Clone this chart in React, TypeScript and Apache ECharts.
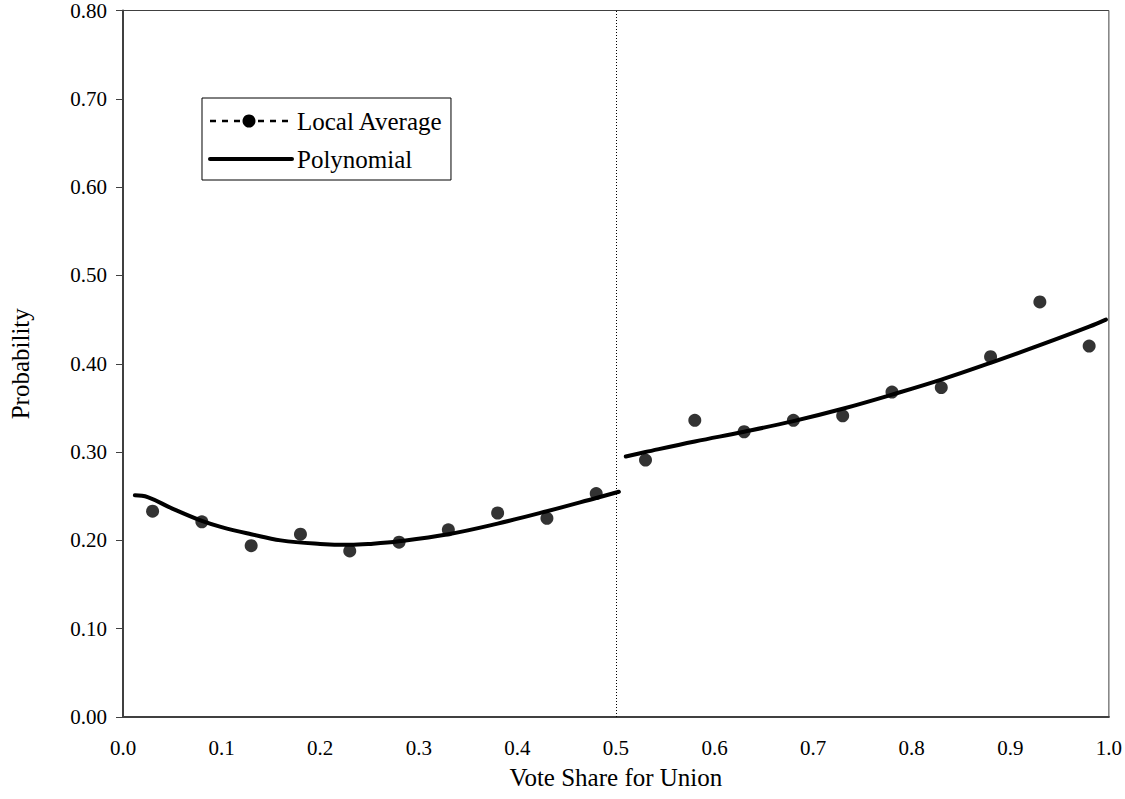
import React, { useEffect, useRef } from "react";
import * as echarts from "echarts";

const localX = [0.03, 0.08, 0.13, 0.18, 0.23, 0.28, 0.33, 0.38, 0.43, 0.48, 0.53, 0.58, 0.63, 0.68, 0.73, 0.78, 0.83, 0.88, 0.93, 0.98];
const localY = [0.233, 0.221, 0.194, 0.207, 0.188, 0.198, 0.212, 0.231, 0.225, 0.253, 0.291, 0.336, 0.323, 0.336, 0.341, 0.368, 0.373, 0.408, 0.47, 0.42];

const polyLeftX = [0.012, 0.025, 0.05, 0.08, 0.1, 0.13, 0.16, 0.2, 0.23, 0.25, 0.28, 0.33, 0.38, 0.43, 0.48, 0.503];
const polyLeftY = [0.251, 0.249, 0.236, 0.222, 0.215, 0.207, 0.2, 0.196, 0.195, 0.196, 0.199, 0.207, 0.219, 0.233, 0.248, 0.255];

const polyRightX = [0.51, 0.53, 0.58, 0.63, 0.68, 0.73, 0.78, 0.83, 0.88, 0.93, 0.98, 0.997];
const polyRightY = [0.295, 0.3, 0.312, 0.323, 0.335, 0.349, 0.365, 0.382, 0.401, 0.421, 0.442, 0.45];

const cutoff = 0.503;
const xTitle = "Vote Share for Union";
const yTitle = "Probability";
const legendLabels = ["Local Average", "Polynomial"];

const FONT = "Liberation Serif, Times New Roman, serif";

function measure(text: string, size: number): number {
  const c = document.createElement("canvas").getContext("2d");
  if (!c) return text.length * size * 0.45;
  c.font = `${size}px "Liberation Serif", serif`;
  return c.measureText(text).width;
}

export default function App() {
  const ref = useRef<HTMLDivElement>(null);
  useEffect(() => {
    if (!ref.current) return;
    const chart = echarts.init(ref.current, null, { renderer: "svg" });
    const zip = (xs: number[], ys: number[]) => xs.map((x, i) => [x, ys[i]]);
    const legendFont = 25;
    const textW = Math.max(...legendLabels.map((t) => measure(t, legendFont)));
    const boxW = 297 - 202 + textW + 8;
    chart.setOption({
      animation: false,
      backgroundColor: "#ffffff",
      textStyle: { fontFamily: FONT, color: "#000" },
      grid: { left: 117, right: 11, top: 8, bottom: 82, show: true, borderColor: "#404040", borderWidth: 1 },
      xAxis: {
        type: "value",
        min: 0,
        max: 1,
        interval: 0.1,
        name: xTitle,
        nameLocation: "middle",
        nameGap: 48,
        nameTextStyle: { fontFamily: FONT, fontSize: 25, color: "#000" },
        axisLine: { show: true, onZero: false, lineStyle: { color: "#404040", width: 2 } },
        axisTick: { show: false },
        splitLine: { show: false },
        axisLabel: { fontFamily: FONT, fontSize: 21, color: "#000", margin: 20, formatter: (v: number) => v.toFixed(1) },
      },
      yAxis: {
        type: "value",
        min: 0,
        max: 0.8,
        interval: 0.1,
        name: yTitle,
        nameLocation: "middle",
        nameGap: 90,
        nameTextStyle: { fontFamily: FONT, fontSize: 25, color: "#000" },
        axisLine: { show: true, onZero: false, lineStyle: { color: "#404040", width: 2 } },
        axisTick: { show: true, inside: false, length: 7, lineStyle: { color: "#404040", width: 1 } },
        splitLine: { show: false },
        axisLabel: { fontFamily: FONT, fontSize: 21, color: "#000", margin: 16, formatter: (v: number) => v.toFixed(2) },
      },
      series: [
        {
          name: "Polynomial",
          type: "line",
          data: zip(polyLeftX, polyLeftY),
          smooth: 0.4,
          showSymbol: false,
          symbol: "none",
          lineStyle: { color: "#000", width: 4, cap: "round" },
          markLine: {
            silent: true,
            symbol: ["none", "none"],
            label: { show: false },
            lineStyle: { color: "#000", type: [1, 2], width: 1 },
            data: [{ xAxis: cutoff }],
          },
        },
        {
          name: "Polynomial",
          type: "line",
          data: zip(polyRightX, polyRightY),
          smooth: 0.4,
          showSymbol: false,
          symbol: "none",
          lineStyle: { color: "#000", width: 4, cap: "round" },
        },
        {
          name: "Local Average",
          type: "scatter",
          data: zip(localX, localY),
          symbol: "circle",
          symbolSize: 13,
          itemStyle: { color: "#000" },
          z: 5,
        },
      ],
      graphic: [
        {
          type: "rect",
          shape: { x: 202, y: 98, width: boxW, height: 82 },
          style: { fill: "#fff", stroke: "#000", lineWidth: 1 },
          z: 10,
        },
        {
          type: "line",
          shape: { x1: 210, y1: 121, x2: 293, y2: 121 },
          style: { stroke: "#000", lineWidth: 2.5, lineDash: [6, 6] },
          z: 11,
        },
        {
          type: "circle",
          shape: { cx: 249, cy: 121, r: 6.5 },
          style: { fill: "#000" },
          z: 12,
        },
        {
          type: "line",
          shape: { x1: 210, y1: 159, x2: 292, y2: 159 },
          style: { stroke: "#000", lineWidth: 4, lineCap: "round" },
          z: 11,
        },
        {
          type: "text",
          x: 297,
          y: 121,
          style: { text: legendLabels[0], font: `${legendFont}px ${FONT}`, fill: "#000", verticalAlign: "middle", align: "left" },
          z: 12,
        },
        {
          type: "text",
          x: 297,
          y: 159,
          style: { text: legendLabels[1], font: `${legendFont}px ${FONT}`, fill: "#000", verticalAlign: "middle", align: "left" },
          z: 12,
        },
      ],
    });
    return () => chart.dispose();
  }, []);
  return <div ref={ref} style={{ width: 1125, height: 799, position: "absolute", left: 0, top: 0 }} />;
}
